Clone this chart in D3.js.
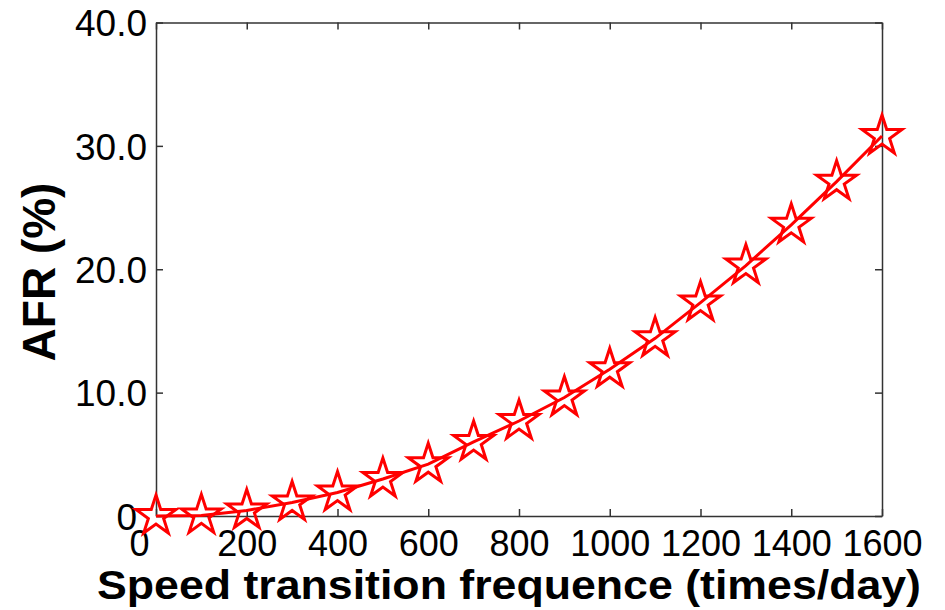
<!DOCTYPE html>
<html>
<head>
<meta charset="utf-8">
<script src="https://cdnjs.cloudflare.com/ajax/libs/d3/7.8.5/d3.min.js"></script>
<style>
  html, body { margin: 0; padding: 0; background: #fff; }
  svg { display: block; }
</style>
</head>
<body>
<div id="chart"></div>
<script>
// data
var freq = [0, 100, 200, 300, 400, 500, 600, 700, 800, 900, 1000, 1100, 1200, 1300, 1400, 1500, 1600];
var afr = [0.0, 0.05, 0.45, 1.1, 1.9, 3.0, 4.2, 6.0, 7.7, 9.6, 11.9, 14.4, 17.3, 20.3, 23.6, 27.1, 30.8];
var xTicks = [0, 200, 400, 600, 800, 1000, 1200, 1400, 1600];
var yTicks = [0, 10, 20, 30, 40];

var width = 945, height = 610;
var margin = { left: 156, right: 63, top: 22.5, bottom: 94 };

var x = d3.scaleLinear().domain([0, 1600]).range([margin.left, width - margin.right]);
var y = d3.scaleLinear().domain([0, 40]).range([height - margin.bottom, margin.top]);

var svg = d3.select('#chart')
  .append('svg')
  .attr('width', width)
  .attr('height', height)
  .attr('font-family', 'Liberation Sans, Arial, sans-serif');

var axisColor = '#333';
var tickLen = 7;

// bottom / top axes, ticks pointing inward
svg.append('g')
  .attr('transform', 'translate(0,' + y(0) + ')')
  .call(d3.axisBottom(x).tickValues(xTicks).tickSizeInner(-tickLen).tickSizeOuter(0)
    .tickFormat(d => d))
  .call(g => {
    g.select('.domain').attr('stroke', axisColor).attr('stroke-width', 1.5);
    g.selectAll('.tick line').attr('stroke', axisColor).attr('stroke-width', 1.5);
    g.selectAll('.tick text')
      .attr('fill', '#000')
      .attr('font-size', 36)
      .attr('y', 40)
      .attr('dy', 0)
      .attr('dx', d => d === 0 ? -17 : 0);
  });

svg.append('g')
  .attr('transform', 'translate(0,' + y(40) + ')')
  .call(d3.axisTop(x).tickValues(xTicks).tickSizeInner(-tickLen).tickSizeOuter(0).tickFormat(''))
  .call(g => {
    g.select('.domain').attr('stroke', axisColor).attr('stroke-width', 1.5);
    g.selectAll('.tick line').attr('stroke', axisColor).attr('stroke-width', 1.5);
  });

// left / right axes
svg.append('g')
  .attr('transform', 'translate(' + x(0) + ',0)')
  .call(d3.axisLeft(y).tickValues(yTicks).tickSizeInner(-tickLen).tickSizeOuter(0)
    .tickFormat(d => d === 0 ? '0' : d3.format('.1f')(d)))
  .call(g => {
    g.select('.domain').attr('stroke', axisColor).attr('stroke-width', 1.5);
    g.selectAll('.tick line').attr('stroke', axisColor).attr('stroke-width', 1.5);
    g.selectAll('.tick text')
      .attr('fill', '#000')
      .attr('font-size', 37)
      .attr('x', d => d === 0 ? -19 : -9)
      .attr('dy', d => d === 0 ? '0.36em' : '0.36em');
  });

svg.append('g')
  .attr('transform', 'translate(' + x(1600) + ',0)')
  .call(d3.axisRight(y).tickValues(yTicks).tickSizeInner(-tickLen).tickSizeOuter(0).tickFormat(''))
  .call(g => {
    g.select('.domain').attr('stroke', axisColor).attr('stroke-width', 1.5);
    g.selectAll('.tick line').attr('stroke', axisColor).attr('stroke-width', 1.5);
  });

// axis titles
svg.append('text')
  .attr('x', 97)
  .attr('y', 599)
  .attr('font-size', 41)
  .attr('font-weight', 'bold')
  .attr('textLength', 824)
  .attr('lengthAdjust', 'spacingAndGlyphs')
  .text('Speed transition frequence (times/day)');

svg.append('text')
  .attr('transform', 'translate(55,272) rotate(-90)')
  .attr('text-anchor', 'middle')
  .attr('font-size', 46)
  .attr('font-weight', 'bold')
  .text('AFR (%)');

// series
var pts = freq.map((f, i) => [f, afr[i]]);

svg.append('path')
  .datum(pts)
  .attr('fill', 'none')
  .attr('stroke', '#ff0000')
  .attr('stroke-width', 3)
  .attr('d', d3.line().x(d => x(d[0])).y(d => y(d[1])));

function starPath(R, r) {
  var p = [];
  for (var k = 0; k < 10; k++) {
    var a = -Math.PI / 2 + k * Math.PI / 5;
    var rad = k % 2 === 0 ? R : r;
    p.push([rad * Math.cos(a), rad * Math.sin(a)]);
  }
  return 'M' + p.map(q => q[0].toFixed(2) + ',' + q[1].toFixed(2)).join('L') + 'Z';
}
var star = starPath(21, 21 * 0.382);

svg.append('g')
  .selectAll('path')
  .data(pts)
  .enter().append('path')
    .attr('d', star)
    .attr('transform', d => 'translate(' + x(d[0]) + ',' + y(d[1]) + ')')
    .attr('fill', 'none')
    .attr('stroke', '#ff0000')
    .attr('stroke-width', 3)
    .attr('stroke-linejoin', 'miter');
</script>
</body>
</html>
